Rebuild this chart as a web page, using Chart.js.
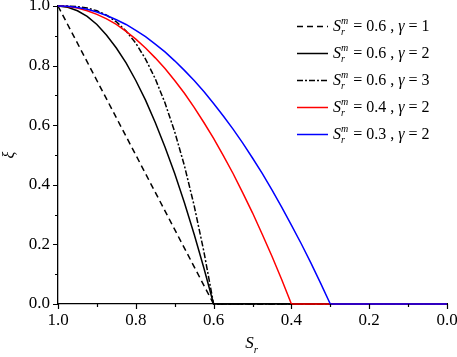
<!DOCTYPE html>
<html>
<head>
<meta charset="utf-8">
<script src="https://cdn.jsdelivr.net/npm/chart.js@4/dist/chart.umd.min.js"></script>
<style>
html,body{margin:0;padding:0;background:#fff;}
canvas{display:block;}
</style>
</head>
<body>
<canvas id="c" width="457" height="357"></canvas>
<script>
// ---- data ----
const legendSm = ["0.6", "0.6", "0.6", "0.4", "0.3"];
const legendGamma = ["1", "2", "3", "2", "2"];

const srA = [1.0, 0.6, 0.0];
const xiA = [1.0, 0.0, 0.0];

const srB = [1.0, 0.975, 0.95, 0.925, 0.9, 0.875, 0.85, 0.825, 0.8, 0.775, 0.75, 0.725, 0.7, 0.675, 0.65, 0.625, 0.6, 0.0];
const xiB = [1.0, 0.996, 0.984, 0.965, 0.938, 0.902, 0.859, 0.809, 0.75, 0.684, 0.609, 0.527, 0.438, 0.340, 0.234, 0.121, 0.0, 0.0];

const srC = [1.0, 0.975, 0.95, 0.925, 0.9, 0.875, 0.85, 0.825, 0.8, 0.775, 0.75, 0.725, 0.7, 0.675, 0.65, 0.625, 0.6, 0.0];
const xiC = [1.0, 1.0, 0.998, 0.993, 0.984, 0.969, 0.947, 0.916, 0.875, 0.822, 0.756, 0.675, 0.578, 0.464, 0.330, 0.176, 0.0, 0.0];

const srD = [1.0, 0.975, 0.95, 0.925, 0.9, 0.875, 0.85, 0.825, 0.8, 0.775, 0.75, 0.725, 0.7, 0.675, 0.65, 0.625, 0.6, 0.575, 0.55, 0.525, 0.5, 0.475, 0.45, 0.425, 0.4, 0.0];
const xiD = [1.0, 0.998, 0.993, 0.984, 0.972, 0.957, 0.938, 0.915, 0.889, 0.859, 0.826, 0.790, 0.75, 0.707, 0.660, 0.609, 0.556, 0.498, 0.438, 0.373, 0.306, 0.234, 0.160, 0.082, 0.0, 0.0];

const srE = [1.0, 0.975, 0.95, 0.925, 0.9, 0.875, 0.85, 0.825, 0.8, 0.775, 0.75, 0.725, 0.7, 0.675, 0.65, 0.625, 0.6, 0.575, 0.55, 0.525, 0.5, 0.475, 0.45, 0.425, 0.4, 0.375, 0.35, 0.325, 0.3, 0.0];
const xiE = [1.0, 0.999, 0.995, 0.989, 0.980, 0.968, 0.954, 0.938, 0.918, 0.897, 0.872, 0.846, 0.816, 0.784, 0.75, 0.713, 0.673, 0.631, 0.587, 0.540, 0.490, 0.438, 0.383, 0.325, 0.265, 0.203, 0.138, 0.070, 0.0, 0.0];

const xMajorTicks = [1.0, 0.8, 0.6, 0.4, 0.2, 0.0];
const xMinorTicks = [0.9, 0.7, 0.5, 0.3, 0.1];
const yMajorTicks = [0.0, 0.2, 0.4, 0.6, 0.8, 1.0];
const yMinorTicks = [0.1, 0.3, 0.5, 0.7, 0.9];

const pts = (xs, ys) => xs.map((x, i) => ({x: x, y: ys[i]}));

const SERIF = 'Liberation Serif';
const SERIF_CSS = '"Liberation Serif"';

const ticksPlugin = {
  id: 'minorTicks',
  afterDraw(chart) {
    const ctx = chart.ctx;
    const xs = chart.scales.x, ys = chart.scales.y;
    const a = chart.chartArea;
    ctx.save();
    ctx.strokeStyle = '#000';
    ctx.lineWidth = 1.2;
    ctx.beginPath();
    xMajorTicks.forEach(v => { const p = Math.round(xs.getPixelForValue(v)) + 0.5; ctx.moveTo(p, a.bottom); ctx.lineTo(p, a.bottom + 5); });
    xMinorTicks.forEach(v => { const p = Math.round(xs.getPixelForValue(v)) + 0.5; ctx.moveTo(p, a.bottom); ctx.lineTo(p, a.bottom + 3); });
    yMajorTicks.forEach(v => { const p = Math.round(ys.getPixelForValue(v)) + 0.5; ctx.moveTo(a.left, p); ctx.lineTo(a.left - 5, p); });
    yMinorTicks.forEach(v => { const p = Math.round(ys.getPixelForValue(v)) + 0.5; ctx.moveTo(a.left, p); ctx.lineTo(a.left - 3, p); });
    ctx.stroke();

    // x-axis title S_r
    ctx.fillStyle = '#000';
    ctx.textBaseline = 'alphabetic';
    const cx = (a.left + a.right) / 2;
    ctx.font = 'italic 17px ' + SERIF_CSS;
    const w = ctx.measureText('S').width;
    ctx.textAlign = 'left';
    ctx.fillText('S', cx - w / 2 - 3, 348);
    ctx.font = 'italic 11px ' + SERIF_CSS;
    ctx.fillText('r', cx + w / 2 - 3, 353);

    // legend
    const rows = [26, 53, 80, 107, 134];
    chart.data.datasets.forEach((ds, i) => {
      const y = rows[i];
      ctx.strokeStyle = ds.borderColor;
      ctx.lineWidth = 1.5;
      ctx.setLineDash(ds.borderDash || []);
      ctx.beginPath();
      ctx.moveTo(297, y + 0.5);
      ctx.lineTo(328, y + 0.5);
      ctx.stroke();
      ctx.setLineDash([]);
      let x = 333;
      const base = y + 5;
      ctx.fillStyle = '#000';
      ctx.font = 'italic 16px ' + SERIF_CSS;
      ctx.fillText('S', x, base);
      x += ctx.measureText('S').width;
      ctx.font = 'italic 10px ' + SERIF_CSS;
      ctx.fillText('m', x, base - 7);
      ctx.fillText('r', x, base + 4);
      x += ctx.measureText('m').width + 1;
      ctx.font = '16px ' + SERIF_CSS;
      const t1 = ' = ' + legendSm[i] + ' , ';
      ctx.fillText(t1, x, base);
      x += ctx.measureText(t1).width;
      ctx.font = 'italic 16px ' + SERIF_CSS;
      ctx.fillText('\u03B3', x, base);
      x += ctx.measureText('\u03B3').width;
      ctx.font = '16px ' + SERIF_CSS;
      ctx.fillText(' = ' + legendGamma[i], x, base);
    });
    ctx.restore();
  }
};

const common = {fill: false, pointRadius: 0, borderWidth: 1.5, tension: 0, showLine: true, clip: false};

new Chart(document.getElementById('c'), {
  type: 'scatter',
  data: {
    datasets: [
      Object.assign({label: 'a', data: pts(srA, xiA), borderColor: '#000000', borderDash: [6, 4], order: 4}, common),
      Object.assign({label: 'b', data: pts(srB, xiB), borderColor: '#000000', order: 3}, common),
      Object.assign({label: 'c', data: pts(srC, xiC), borderColor: '#000000', borderDash: [6, 2, 2, 2], order: 2}, common),
      Object.assign({label: 'd', data: pts(srD, xiD), borderColor: '#ff0000', order: 1}, common),
      Object.assign({label: 'e', data: pts(srE, xiE), borderColor: '#0000ff', order: 0}, common)
    ]
  },
  options: {
    responsive: false,
    animation: false,
    devicePixelRatio: 1,
    layout: {padding: {top: 6, right: 10, left: 0, bottom: 0}},
    plugins: {legend: {display: false}, tooltip: {enabled: false}},
    scales: {
      x: {
        type: 'linear', reverse: true, min: 0, max: 1,
        afterFit(s) { s.height = 53; s.paddingLeft = 0; s.paddingRight = 0; },
        grid: {display: false, drawTicks: false},
        border: {display: true, color: '#000', width: 1.3},
        ticks: {stepSize: 0.2, padding: 6, color: '#000', font: {family: SERIF, size: 17},
          callback: v => Number(v).toFixed(1)}
      },
      y: {
        type: 'linear', min: 0, max: 1,
        afterFit(s) { s.width = 58; s.paddingTop = 0; s.paddingBottom = 0; },
        grid: {display: false, drawTicks: false},
        border: {display: true, color: '#000', width: 1.3},
        title: {display: true, text: '\u03BE', color: '#000', font: {family: SERIF, size: 16, style: 'italic'}, padding: {top: 0, bottom: 6}},
        ticks: {stepSize: 0.2, padding: 8, color: '#000', font: {family: SERIF, size: 17},
          callback: v => Number(v).toFixed(1)}
      }
    }
  },
  plugins: [ticksPlugin]
});
</script>
</body>
</html>
